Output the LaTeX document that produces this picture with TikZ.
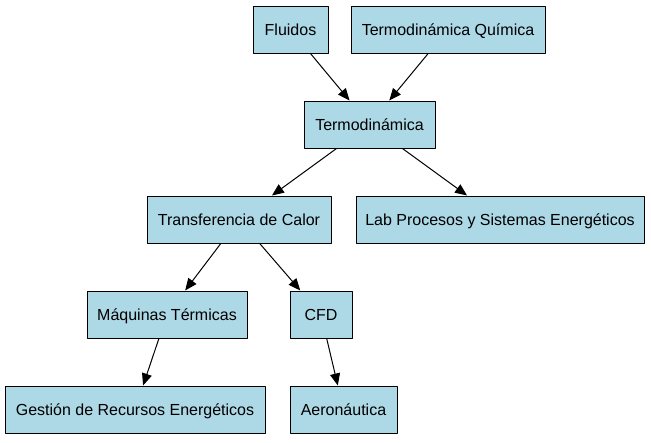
\documentclass[tikz,border=0pt]{standalone}
\usepackage{fontspec}
\setmainfont{Liberation Sans}
\usetikzlibrary{arrows.meta}
\definecolor{cajaazul}{HTML}{ADD8E6}

\begin{document}
\begin{tikzpicture}[x=0.75pt,y=-0.75pt,line join=round,>={Triangle[length=9pt,width=7.5pt]},
  caja/.style={draw=black,fill=cajaazul,line width=0.75pt,font=\fontsize{12pt}{14pt}\selectfont,
    minimum height=35.25pt,inner xsep=6pt,text height=8.6pt,text depth=0pt},
  flecha/.style={->,line width=0.75pt}]
  \useasboundingbox (0,0) rectangle (651,443);
  % fila superior
  \node[caja,minimum width=56.25pt] (flu) at (290.5,29.5) {Fluidos};
  \node[caja,minimum width=145.5pt] (tq) at (448,29.5) {Termodinámica Química};
  \node[caja,minimum width=98.25pt] (termo) at (369.5,124.5) {Termodinámica};
  \node[caja,minimum width=138pt] (tdc) at (239,219.5) {Transferencia de Calor};
  \node[caja,minimum width=216pt] (lab) at (500,219.5) {Lab Procesos y Sistemas Energéticos};
  \node[caja,minimum width=120pt] (maq) at (167,314.5) {Máquinas Térmicas};
  \node[caja,minimum width=46.5pt] (cfd) at (321,314.5) {CFD};
  \node[caja,minimum width=195pt] (ger) at (135,409.5) {Gestión de Recursos Energéticos};
  \node[caja,minimum width=80.25pt] (aero) at (343.5,409.5) {Aeronáutica};
  % conexiones
  \draw[flecha] (flu) -- (termo);
  \draw[flecha] (tq) -- (termo);
  \draw[flecha] (termo) -- (tdc);
  \draw[flecha] (termo) -- (lab);
  \draw[flecha] (tdc) -- (maq);
  \draw[flecha] (tdc) -- (cfd);
  \draw[flecha] (maq) -- (ger);
  \draw[flecha] (cfd) -- (aero);
\end{tikzpicture}
\end{document}
